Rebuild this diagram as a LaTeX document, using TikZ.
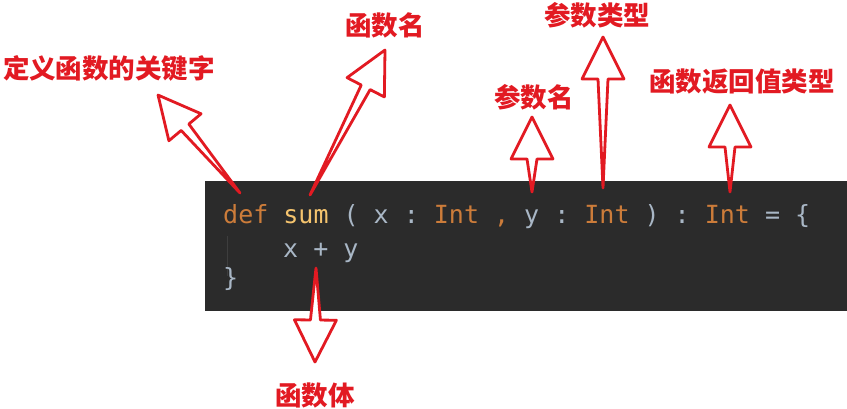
\documentclass[tikz,border=0pt]{standalone}
\usepackage{fontspec}
\setmainfont{DejaVu Sans}
\newfontfamily\cjk{Noto Sans CJK SC}
\newfontfamily\codefont{DejaVu Sans Mono}
\usetikzlibrary{calc}
\definecolor{arrred}{RGB}{226,26,34}
\definecolor{codebg}{RGB}{43,43,43}
\definecolor{guide}{RGB}{62,62,62}
\definecolor{kw}{RGB}{204,124,58}
\definecolor{fn}{RGB}{245,196,110}
\definecolor{plain}{RGB}{169,183,198}
\newcommand\harrow[2]{%
  \path let \p1=(#1), \p2=(#2), \n1={atan2(\y2-\y1,\x2-\x1)}, \n2={veclen(\x2-\x1,\y2-\y1)} in
    \pgfextra{\xdef\harang{\n1}\xdef\harlen{\n2}};
  \begin{scope}[shift={(#1)}, rotate=\harang]
    \filldraw[hollow] (0pt,0pt) -- (\harlen-42pt,-5pt) -- (\harlen-42pt,-21pt)
      -- (\harlen,0pt) -- (\harlen-42pt,21pt) -- (\harlen-42pt,5pt) -- cycle;
  \end{scope}}
\begin{document}
\begin{tikzpicture}[x=1pt,y=-1pt,
  lbl/.style={text=arrred, font=\cjk\bfseries\fontsize{26.5}{26.5}\selectfont, inner sep=0pt},
  code/.style={anchor=base west, inner sep=0pt, font=\codefont\fontsize{25}{25}\selectfont\frenchspacing, text=plain},
  hollow/.style={draw=arrred, fill=white, line width=2.8pt, line join=round}]
\useasboundingbox (0,0) rectangle (847,408);
% code panel
\fill[codebg] (205,181) rectangle (847,311);
\draw[guide, line width=1pt] (227,236) -- (227,276);
\node[code] (l1) at (223,223) {\textcolor{kw}{def} \textcolor{fn}{sum} ( x : \textcolor{kw}{Int} \textcolor{kw}{,} y : \textcolor{kw}{Int} ) : \textcolor{kw}{Int} = \{};
\node[code] (l2) at (283,257) {x + y};
\node[code] (l3) at (223,286) {\}};
% labels
\node[lbl] (kwl) at (109,68) {定义函数的关键字};
\node[lbl] (fnl) at (385,25) {函数名};
\node[lbl] (pnl) at (534,97) {参数名};
\node[lbl] (ptl) at (597,15) {参数类型};
\node[lbl] (rtl) at (742,82) {函数返回值类型};
\node[lbl] (bdl) at (315,395) {函数体};
% arrow ends
\coordinate (b1) at (240,193); \coordinate (t1) at (158,95);
\coordinate (b2) at (310,195); \coordinate (t2) at (385,50);
\coordinate (b3) at (532,192); \coordinate (t3) at (532,117);
\coordinate (b4) at (603,188); \coordinate (t4) at (603,37);
\coordinate (b5) at (730,192); \coordinate (t5) at (730,105);
\coordinate (b6) at (316,268); \coordinate (t6) at (315,362);
\harrow{b1}{t1}
\harrow{b2}{t2}
\harrow{b3}{t3}
\harrow{b4}{t4}
\harrow{b5}{t5}
\harrow{b6}{t6}
\end{tikzpicture}
\end{document}
